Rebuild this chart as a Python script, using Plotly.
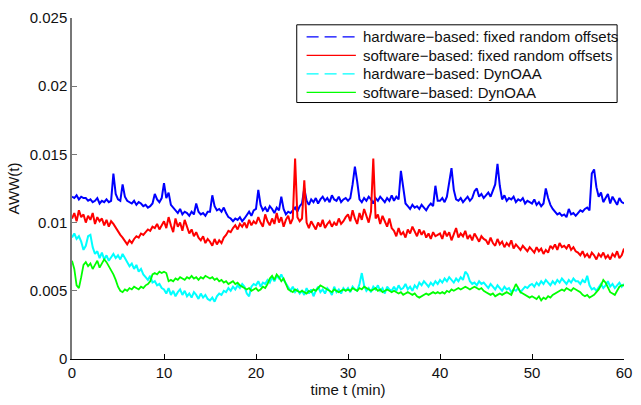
import numpy as np
import plotly.graph_objects as go

# Sampling grid: one sample every 15 s over one hour
t_min = np.arange(241) * 0.25

# AWW(t) values, stored in units of 1e-4
hw_fixed = [
    119, 118, 120, 117, 119, 118, 118, 116, 117, 115, 116, 118, 114, 116, 115, 117, 115, 116, 136, 121,
    117, 116, 128, 119, 116, 115, 114, 116, 113, 115, 114, 112, 113, 111, 112, 114, 121, 117, 115, 118,
    129, 118, 122, 113, 111, 109, 107, 110, 106, 108, 107, 105, 108, 106, 114, 108, 106, 107, 105, 108,
    108, 120, 112, 109, 110, 108, 111, 107, 104, 103, 101, 103, 102, 104, 101, 103, 106, 108, 105, 109,
    110, 124, 113, 109, 111, 108, 112, 110, 107, 111, 109, 119, 110, 106, 108, 107, 109, 111, 108, 112,
    114, 125, 116, 113, 117, 115, 118, 114, 117, 119, 116, 118, 115, 120, 117, 116, 119, 115, 117, 118,
    116, 118, 128, 141, 130, 117, 115, 118, 116, 119, 117, 114, 118, 116, 119, 117, 115, 118, 116, 120,
    116, 119, 117, 138, 127, 114, 112, 110, 113, 111, 112, 110, 113, 111, 109, 112, 114, 112, 127, 116,
    116, 118, 115, 119, 129, 140, 124, 117, 116, 118, 115, 117, 119, 116, 118, 123, 125, 119, 121, 118,
    120, 122, 119, 124, 128, 143, 127, 117, 120, 116, 118, 117, 119, 115, 117, 116, 118, 114, 116, 115,
    114, 117, 113, 115, 112, 114, 125, 118, 113, 110, 108, 106, 107, 105, 106, 104, 110, 106, 107, 105,
    107, 109, 108, 110, 111, 109, 136, 139, 126, 119, 122, 115, 118, 121, 114, 119, 116, 113, 118, 115,
    114,
]

sw_fixed = [
    103, 107, 101, 109, 104, 106, 100, 105, 102, 107, 99, 104, 101, 103, 98, 102, 97, 101, 99, 96,
    94, 91, 89, 86, 84, 87, 85, 88, 90, 89, 92, 91, 93, 95, 94, 97, 96, 99, 95, 98,
    101, 96, 104, 98, 93, 103, 97, 100, 94, 102, 96, 92, 95, 90, 93, 89, 87, 90, 85, 88,
    86, 83, 88, 84, 87, 85, 89, 91, 94, 93, 96, 98, 95, 99, 97, 100, 96, 102, 98, 101,
    99, 104, 100, 97, 106, 101, 98, 103, 99, 107, 100, 104, 97, 102, 105, 99, 103, 147, 104, 101,
    103, 131, 100, 96, 101, 98, 95, 100, 97, 102, 96, 99, 101, 97, 100, 98, 103, 99, 101, 104,
    106, 101, 109, 103, 99, 107, 102, 110, 104, 100, 108, 147, 103, 106, 99, 105, 101, 97, 103, 96,
    94, 90, 96, 91, 93, 89, 95, 92, 97, 93, 90, 95, 91, 94, 89, 92, 88, 93, 90, 91,
    92, 88, 94, 90, 93, 87, 91, 96, 89, 92, 90, 94, 88, 91, 87, 92, 89, 86, 90, 88,
    87, 84, 89, 85, 83, 88, 84, 86, 82, 85, 83, 87, 81, 84, 82, 80, 83, 81, 79, 82,
    80, 78, 82, 79, 81, 77, 80, 78, 83, 81, 84, 80, 85, 82, 83, 81, 84, 80, 82, 79,
    78, 76, 79, 75, 77, 74, 78, 76, 73, 77, 75, 78, 74, 76, 73, 77, 75, 79, 74, 76,
    81,
]

hw_dynoaa = [
    89, 92, 88, 90, 86, 80, 83, 90, 91, 82, 77, 79, 74, 78, 73, 76, 72, 75, 77, 74,
    76, 73, 77, 74, 71, 68, 70, 66, 69, 64, 66, 62, 60, 58, 61, 56, 57, 54, 55, 52,
    51, 48, 52, 47, 50, 46, 49, 51, 47, 50, 46, 48, 45, 49, 47, 44, 48, 45, 47, 44,
    43, 45, 42, 46, 48, 47, 50, 49, 52, 50, 53, 51, 54, 52, 55, 53, 48, 46, 53, 55,
    54, 57, 53, 56, 55, 58, 56, 60, 57, 61, 59, 62, 58, 55, 52, 50, 53, 49, 51, 48,
    50, 47, 52, 48, 51, 46, 50, 53, 49, 51, 48, 52, 50, 47, 53, 49, 51, 48, 52, 50,
    52, 49, 53, 51, 50, 55, 63, 54, 50, 52, 49, 53, 51, 54, 50, 52, 48, 53, 51, 50,
    53, 50, 54, 51, 52, 55, 51, 53, 50, 54, 52, 56, 54, 57, 55, 53, 56, 54, 57, 55,
    58, 56, 59, 57, 60, 58, 56, 59, 57, 60, 58, 64, 62, 57, 55, 56, 54, 57, 55, 56,
    54, 52, 55, 53, 51, 54, 52, 50, 53, 51, 52, 49, 51, 50, 52, 49, 51, 53, 52, 54,
    55, 53, 56, 54, 57, 55, 58, 56, 54, 57, 55, 58, 56, 59, 57, 55, 58, 56, 59, 57,
    57, 55, 58, 56, 61, 54, 51, 52, 50, 53, 55, 52, 54, 57, 53, 55, 52, 54, 56, 53,
    55,
]

sw_dynoaa = [
    72, 66, 54, 52, 60, 69, 71, 68, 70, 66, 69, 72, 67, 70, 73, 71, 68, 66, 62, 58,
    53, 50, 49, 51, 50, 52, 51, 53, 52, 51, 53, 52, 54, 55, 57, 62, 63, 62, 64, 63,
    64, 63, 57, 58, 57, 59, 58, 60, 59, 58, 60, 59, 61, 59, 60, 58, 60, 59, 61, 60,
    59, 60, 58, 59, 57, 58, 56, 57, 55, 56, 57, 55, 56, 54, 53, 52, 51, 52, 50, 51,
    52, 50, 51, 53, 52, 55, 59, 61, 58, 62, 60, 57, 59, 55, 51, 50, 49, 51, 50, 49,
    50, 49, 48, 50, 49, 51, 50, 52, 54, 53, 52, 51, 50, 49, 51, 50, 49, 50, 51, 50,
    51, 50, 52, 51, 50, 52, 51, 53, 52, 51, 50, 51, 52, 50, 51, 49, 50, 51, 50, 49,
    50, 49, 48, 49, 47, 48, 49, 48, 47, 48, 46, 45, 46, 47, 48, 47, 48, 49, 48, 49,
    48, 49, 48, 50, 49, 51, 50, 51, 52, 51, 52, 53, 52, 51, 52, 53, 52, 51, 52, 50,
    49, 48, 47, 48, 46, 47, 48, 47, 48, 49, 48, 47, 51, 55, 52, 49, 48, 47, 46, 45,
    46, 45, 44, 46, 43, 45, 44, 46, 45, 47, 48, 49, 50, 51, 50, 52, 51, 50, 52, 51,
    50, 49, 47, 46, 47, 45, 46, 47, 49, 51, 54, 58, 56, 52, 49, 48, 47, 50, 53, 54,
    54,
]

names = [
    "hardware\u2212based: fixed random offsets",
    "software\u2212based: fixed random offsets",
    "hardware\u2212based: DynOAA",
    "software\u2212based: DynOAA",
]
series = [hw_fixed, sw_fixed, hw_dynoaa, sw_dynoaa]
colors = ["#0000ff", "#ff0000", "#00ffff", "#00ff00"]
line_widths = [2, 2, 2, 1.8]
legend_dash = ["12px,6px", "solid", "12px,6px", "solid"]

y_ticks = [0, 0.005, 0.01, 0.015, 0.02, 0.025]
y_tick_text = ["0", "0.005", "0.01", "0.015", "0.02", "0.025"]
x_ticks = [0, 10, 20, 30, 40, 50, 60]

FONT = "Liberation Sans, Arial, Helvetica, sans-serif"
W, H = 641, 405
M = dict(l=72, r=9, t=13, b=41)
PW = W - M["l"] - M["r"]
PH = H - M["t"] - M["b"]


def px_x(px):
    """Page pixel column -> paper x coordinate."""
    return (px - M["l"]) / PW


def px_y(py):
    """Page pixel row -> paper y coordinate."""
    return (H - M["b"] - py) / PH


fig = go.Figure()
for name, vals, col, lw in zip(names, series, colors, line_widths):
    assert len(vals) == len(t_min), (name, len(vals))
    fig.add_trace(go.Scatter(
        x=t_min, y=np.array(vals) * 1e-4, mode="lines",
        line=dict(color=col, width=lw), name=name,
        showlegend=False, hoverinfo="skip",
    ))

# Boxed legend in the upper right corner of the axes
shapes = [dict(
    type="rect", xref="paper", yref="paper",
    x0=px_x(300), x1=px_x(625), y0=px_y(100), y1=px_y(20),
    line=dict(color="black", width=1), fillcolor="white", layer="above",
)]
annotations = []
row_y = [32.5, 51.5, 70.5, 89.5]
for name, col, dash, ry in zip(names, colors, legend_dash, row_y):
    shapes.append(dict(
        type="line", xref="paper", yref="paper",
        x0=px_x(310), x1=px_x(360), y0=px_y(ry), y1=px_y(ry),
        line=dict(color=col, width=1.2, dash=dash), layer="above",
    ))
    annotations.append(dict(
        xref="paper", yref="paper", x=px_x(365), y=px_y(ry),
        xanchor="left", yanchor="middle", showarrow=False,
        text=name, font=dict(size=15, color="#111", family=FONT),
    ))

fig.update_layout(
    width=W, height=H,
    margin=M,
    paper_bgcolor="white", plot_bgcolor="white",
    font=dict(family=FONT, size=15, color="#111"),
    showlegend=False,
    shapes=shapes,
    annotations=annotations,
    xaxis=dict(
        range=[0, 60], tickvals=x_ticks, ticks="inside", ticklen=5,
        tickcolor="black", showline=True, linecolor="black", linewidth=1,
        showgrid=False, zeroline=False, mirror=False,
        title=dict(text="time t (min)", font=dict(size=15), standoff=4),
    ),
    yaxis=dict(
        range=[0, 0.025], tickvals=y_ticks, ticktext=y_tick_text,
        ticks="inside", ticklen=5, tickcolor="#777",
        showline=True, linecolor="#777", linewidth=1.5,
        showgrid=False, zeroline=False, mirror=False,
        title=dict(text="AWW(t)", font=dict(size=15), standoff=6),
    ),
)

fig.write_html("out.html")
